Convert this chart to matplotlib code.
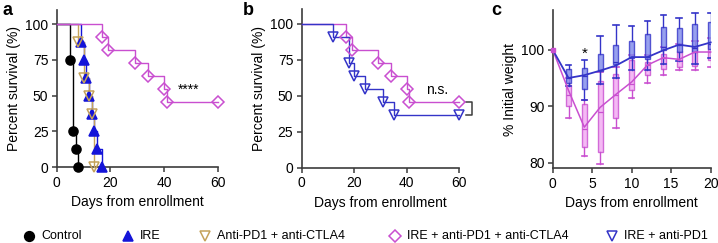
import matplotlib
matplotlib.use('Agg')
import matplotlib.pyplot as plt
from matplotlib.lines import Line2D

plt.rcParams['font.family'] = ['Liberation Sans', 'DejaVu Sans']

# --- survival data: event days and survival (%) after each event ---
control_days = [5, 6, 7, 8]
control_surv = [75, 25, 12.5, 0]

ire_days = [9, 10, 11, 12, 13, 14, 15, 17]
ire_surv = [87.5, 75, 62.5, 50, 37.5, 25, 12.5, 0]

cpi_days = [8, 10, 12, 13, 14]
cpi_surv = [87.5, 62.5, 50, 37.5, 0]

triple_days = [17, 19, 29, 34, 40, 41]
triple_surv = [90.9, 81.8, 72.7, 63.6, 54.5, 45.5]
triple_end = 60

irepd1_days = [12, 18, 20, 24, 31, 35]
irepd1_surv = [90.9, 72.7, 63.6, 54.5, 45.5, 36.4]
irepd1_end = 60

# --- weight data (% initial weight) ---
wdays = [0, 2, 4, 6, 8, 10, 12, 14, 16, 18, 20]
blue_mean = [100, 95.0, 95.5, 96.3, 97.2, 98.7, 98.7, 99.9, 100.9, 100.5, 101.3]
mag_mean = [100, 92.8, 86.3, 89.8, 92.1, 94.3, 97.3, 98.6, 98.3, 99.6, 99.6]
# box stats per day (days 2..20): whislo, q1, median, q3, whishi
blue_lo = [93.5, 91.1, 94.0, 95.0, 96.5, 96.5, 97.5, 98.0, 97.5, 98.5]
blue_q1 = [94.2, 93.0, 96.3, 97.5, 98.5, 98.4, 99.9, 99.6, 99.6, 100.2]
blue_med = [95.0, 95.3, 96.5, 97.8, 98.8, 98.7, 100.5, 100.8, 100.3, 101.0]
blue_q3 = [96.6, 96.7, 99.3, 100.9, 101.6, 102.7, 104.1, 103.8, 104.5, 105.0]
blue_hi = [97.3, 98.1, 102.4, 104.3, 104.2, 105.1, 106.1, 105.6, 106.5, 106.5]
mag_lo = [88.0, 81.2, 79.8, 86.2, 91.5, 94.2, 95.6, 96.5, 96.5, 96.9]
mag_q1 = [90.0, 82.8, 81.9, 88.0, 92.8, 95.5, 96.6, 97.0, 97.2, 98.2]
mag_med = [92.0, 86.0, 89.0, 92.0, 94.0, 97.3, 98.6, 98.2, 99.6, 99.6]
mag_q3 = [93.7, 90.4, 94.4, 95.7, 98.1, 97.8, 99.3, 99.7, 100.6, 101.1]
mag_hi = [95.0, 91.1, 96.0, 97.0, 99.0, 99.0, 100.5, 101.0, 101.5, 102.0]

BLACK = 'black'
BLUE = '#1414d8'
TAN = '#c4a25a'
MAG = '#c94fd0'
BLUE2 = '#3434c8'
SPINE = '#3c3c3c'


def km(ax, days, surv, color, marker, end=None, fill='none', ms=6.5):
    xs = [0] + days
    ys = [100] + surv
    if end is not None:
        xs = xs + [end]
        ys = ys + [surv[-1]]
    ax.step(xs, ys, where='post', color=color, lw=1.0, clip_on=False, zorder=3)
    mx = list(days) + ([end] if end is not None else [])
    my = list(surv) + ([surv[-1]] if end is not None else [])
    ax.plot(mx, my, ls='none', marker=marker, ms=ms, mfc=fill, mec=color,
            mew=1.1, clip_on=False, zorder=4)


def style(ax):
    for s in ['top', 'right']:
        ax.spines[s].set_visible(False)
    for s in ['left', 'bottom']:
        ax.spines[s].set_color(SPINE)
        ax.spines[s].set_linewidth(1.2)
    ax.tick_params(direction='out', length=3.5, width=1.1, color=SPINE,
                   labelsize=10, pad=2.5)


fig = plt.figure(figsize=(7.18, 2.43), dpi=100)

# panel a
ax_a = fig.add_axes([0.0790, 0.312, 0.2245, 0.648])
km(ax_a, control_days, control_surv, BLACK, 'o', fill=BLACK, ms=6.5)
km(ax_a, ire_days, ire_surv, BLUE, '^', fill=BLUE, ms=6.5)
km(ax_a, cpi_days, cpi_surv, TAN, 'v', ms=7)
km(ax_a, triple_days, triple_surv, MAG, 'D', end=triple_end, ms=6)
ax_a.text(49, 54, '****', ha='center', va='center', fontsize=10)

# panel b
ax_b = fig.add_axes([0.4202, 0.309, 0.2195, 0.652])
km(ax_b, triple_days, triple_surv, MAG, 'D', end=triple_end, ms=6)
km(ax_b, irepd1_days, irepd1_surv, BLUE2, 'v', end=irepd1_end, ms=7)
ax_b.text(51.5, 54, 'n.s.', ha='center', va='center', fontsize=10)
ax_b.plot([62.6, 65, 65, 62.6], [triple_surv[-1], triple_surv[-1],
          irepd1_surv[-1], irepd1_surv[-1]], color=SPINE, lw=1.1, clip_on=False)

for ax in (ax_a, ax_b):
    ax.set_xlim(0, 60)
    ax.set_ylim(0, 110)
    ax.set_xticks([0, 20, 40, 60])
    ax.set_yticks([0, 25, 50, 75, 100])
    ax.set_ylabel('Percent survival (%)', fontsize=10, labelpad=3)
    ax.set_xlabel('Days from enrollment', fontsize=10, labelpad=4)
    style(ax)

# panel c
ax_c = fig.add_axes([0.7698, 0.307, 0.2200, 0.651])


def stats(lo, q1, med, q3, hi):
    return [dict(whislo=a, q1=b, med=c, q3=d, whishi=e)
            for a, b, c, d, e in zip(lo, q1, med, q3, hi)]


for st, col, face in [(stats(mag_lo, mag_q1, mag_med, mag_q3, mag_hi), MAG, '#f2a8f2'),
                      (stats(blue_lo, blue_q1, blue_med, blue_q3, blue_hi), BLUE2, '#7d88ea')]:
    ax_c.bxp(st, positions=wdays[1:], widths=0.65, showfliers=False,
             patch_artist=True, manage_ticks=False,
             boxprops=dict(facecolor=face, edgecolor=col, lw=1.0, alpha=0.8),
             whiskerprops=dict(color=col, lw=1.0),
             capprops=dict(color=col, lw=1.2),
             medianprops=dict(color=col, lw=0.9),
             capwidths=0.7)

ax_c.plot(wdays, mag_mean, color=MAG, lw=1.1, zorder=5, clip_on=False)
ax_c.plot(wdays, blue_mean, color=BLUE2, lw=1.3, zorder=6, clip_on=False)
ax_c.plot([0], [100], marker='s', ms=3, color=MAG, clip_on=False, zorder=7)
ax_c.text(4, 99.3, '*', ha='center', va='center', fontsize=11)
ax_c.set_xlim(0, 20)
ax_c.set_ylim(79, 107)
ax_c.set_xticks([0, 5, 10, 15, 20])
ax_c.set_yticks([80, 90, 100])
ax_c.set_ylabel('% Initial weight', fontsize=10, labelpad=3)
ax_c.set_xlabel('Days from enrollment', fontsize=10, labelpad=4)
style(ax_c)

# panel letters
for x, lab in [(0.004, 'a'), (0.338, 'b'), (0.684, 'c')]:
    fig.text(x, 0.99, lab, fontsize=13, fontweight='bold', va='top', ha='left')

# legend row
leg_items = [
    (29, 'o', BLACK, BLACK, 'Control'),
    (128, '^', BLUE, BLUE, 'IRE'),
    (205, 'v', 'none', TAN, 'Anti-PD1 + anti-CTLA4'),
    (395, 'D', 'none', MAG, 'IRE + anti-PD1 + anti-CTLA4'),
    (612, 'v', 'none', BLUE2, 'IRE + anti-PD1'),
]
ly = 1 - 236 / 243
for px, mk, fc, ec, lab in leg_items:
    fig.add_artist(Line2D([px / 718], [ly], marker=mk, ls='none', ms=7 if mk != 'D' else 6,
                          mfc=fc, mec=ec, mew=1.1, transform=fig.transFigure))
    fig.text((px + 12) / 718, ly, lab, fontsize=9, va='center', ha='left')

fig.savefig('out.png', dpi=100)
